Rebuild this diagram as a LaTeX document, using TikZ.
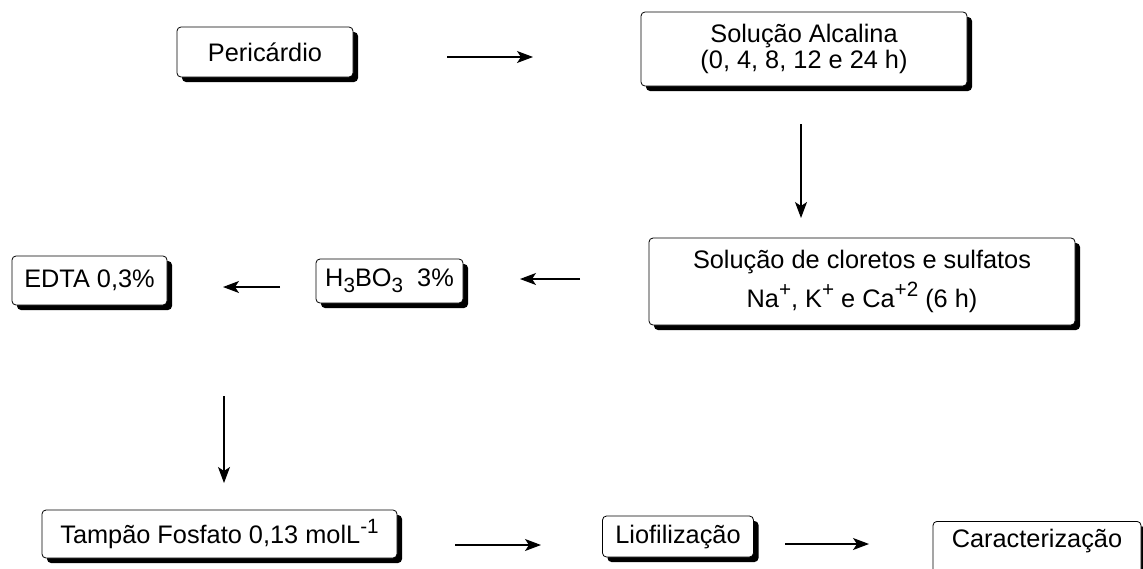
\documentclass[tikz,border=0pt]{standalone}
\usepackage{fontspec}
\setmainfont{Liberation Sans}
\usetikzlibrary{arrows.meta,shadows}
\newcommand\sobe[1]{\raisebox{0.42em}{\fontsize{15.5}{15.5}\selectfont #1}}
\newcommand\desce[1]{\raisebox{-0.22em}{\fontsize{15.5}{15.5}\selectfont #1}}

\begin{document}
\begin{tikzpicture}[x=0.75pt,y=-0.75pt,>={Stealth[length=12pt,width=9pt,inset=3pt]},
  seta/.style={->,line width=0.8pt},
  etapa/.style={draw,rounded corners=3pt,fill=white,line width=0.6pt,align=center,inner sep=0pt,
    font=\fontsize{19}{19}\selectfont,
    drop shadow={shadow xshift=3.75pt,shadow yshift=-3.75pt,fill=black,opacity=1}}]
\useasboundingbox (0,0) rectangle (1143,568);

% caixas
\node[etapa,minimum width=132pt,minimum height=37.5pt] (peri) at (265,52) {Pericárdio};
\node[etapa,minimum width=244.5pt,minimum height=55.5pt] (alcal) at (804,49) {Solução Alcalina\\(0, 4, 8, 12 e 24 h)};
\node[etapa,minimum width=319.5pt,minimum height=65.25pt] (clor) at (862,281.5)
  {Solução de cloretos e sulfatos\\[5pt]Na\sobe{+}, K\sobe{+} e Ca\sobe{+2} (6 h)};
\node[etapa,minimum width=110.25pt,minimum height=33pt] (boro) at (389.5,281) {H\desce{3}BO\desce{3}\ \ 3\%};
\node[etapa,minimum width=116.25pt,minimum height=36.75pt] (edta) at (89.5,280.5) {EDTA 0,3\%};
\node[etapa,minimum width=266.25pt,minimum height=36pt] (tamp) at (219.5,534) {Tampão Fosfato 0,13 molL\sobe{-1}};
\node[etapa,minimum width=113.25pt,minimum height=30.75pt] (liof) at (678,536.5) {Liofilização};
\node[etapa,minimum width=156pt,anchor=north,inner ysep=3pt,text height=16.5pt,text depth=20pt] (carac) at (1037,521) {Caracterização};

% setas
\coordinate (s1a) at (447,57);  \coordinate (s1b) at (533,57);
\coordinate (s2a) at (801,124); \coordinate (s2b) at (801,218);
\coordinate (s3a) at (580,279); \coordinate (s3b) at (520,279);
\coordinate (s4a) at (280,287); \coordinate (s4b) at (223,287);
\coordinate (s5a) at (224,396); \coordinate (s5b) at (224,483);
\coordinate (s6a) at (455,545); \coordinate (s6b) at (541,545);
\coordinate (s7a) at (785,544); \coordinate (s7b) at (869,544);
\draw[seta] (s1a) -- (s1b);
\draw[seta] (s2a) -- (s2b);
\draw[seta] (s3a) -- (s3b);
\draw[seta] (s4a) -- (s4b);
\draw[seta] (s5a) -- (s5b);
\draw[seta] (s6a) -- (s6b);
\draw[seta] (s7a) -- (s7b);
\end{tikzpicture}
\end{document}
